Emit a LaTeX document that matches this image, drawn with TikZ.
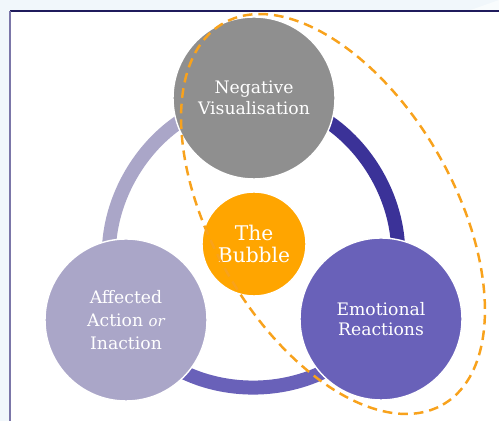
\documentclass[tikz,border=0pt]{standalone}
\usepackage{fontspec}
\setmainfont{DejaVu Serif}
\usepackage{tikz}
\usetikzlibrary{arrows,positioning,calc}
\definecolor{pagebg}{HTML}{F1F7FB}
\definecolor{frametop}{HTML}{1F1B5C}
\definecolor{frameside}{HTML}{7B76A8}
\definecolor{greyfill}{HTML}{8F8F8F}
\definecolor{lilacfill}{HTML}{AAA6C8}
\definecolor{violetfill}{HTML}{6961B9}
\definecolor{indigoring}{HTML}{3B3298}
\definecolor{bubblefill}{HTML}{FFA500}
\definecolor{dashorange}{HTML}{F8A21C}
\pgfdeclarelayer{background}
\pgfsetlayers{background,main}
\tikzstyle{stage}=[circle,draw=white,line width=0.8pt,minimum size=3.24cm,inner sep=0pt,text=white,align=center,font=\fontsize{9.8}{11.7}\selectfont]
\tikzstyle{ring}=[line width=0.28cm,bend left=60,looseness=1.05]

\begin{document}
\begin{tikzpicture}[x=0.02cm,y=0.02cm]
\useasboundingbox (0,0) rectangle (499,421);
% the three stages and the bubble in the middle
\node [stage,fill=greyfill] (neg) at (254,323) {Negative\\Visualisation};
\node [stage,fill=lilacfill,font=\fontsize{9.8}{13}\selectfont] (aff) at (126,101) {Affected\\Action {\itshape\fontsize{8.5}{13}\selectfont or}\\Inaction};
\node [stage,fill=violetfill] (emo) at (381,102) {Emotional\\Reactions};
\node [stage,fill=bubblefill,minimum size=2.08cm,font=\fontsize{11.5}{13}\selectfont] (bub) at (254,177) {The\\Bubble};
% dashed loop round the top and right stages
\draw [dashorange,line width=1.4pt,dash pattern=on 5.5pt off 3.4pt] (333,207) ellipse [x radius=220,y radius=121,rotate=-60];
\begin{pgfonlayer}{background}
  \fill [pagebg] (0,0) rectangle (499,421);
  \fill [white] (10,0) rectangle (499,410);
  \fill [white!60!pagebg] (468,410) -- (499,421) -- (499,410) -- cycle;
  \draw [frametop,line width=0.6pt] (10,410) -- (499,410);
  \draw [frameside,line width=1.1pt] (10,0) -- (10,410);
  % ring between the stages
  \draw [ring,indigoring] (neg.center) to (emo.center);
  \draw [ring,violetfill] (emo.center) to (aff.center);
  \draw [ring,lilacfill] (aff.center) to (neg.center);
\end{pgfonlayer}
\end{tikzpicture}
\end{document}
